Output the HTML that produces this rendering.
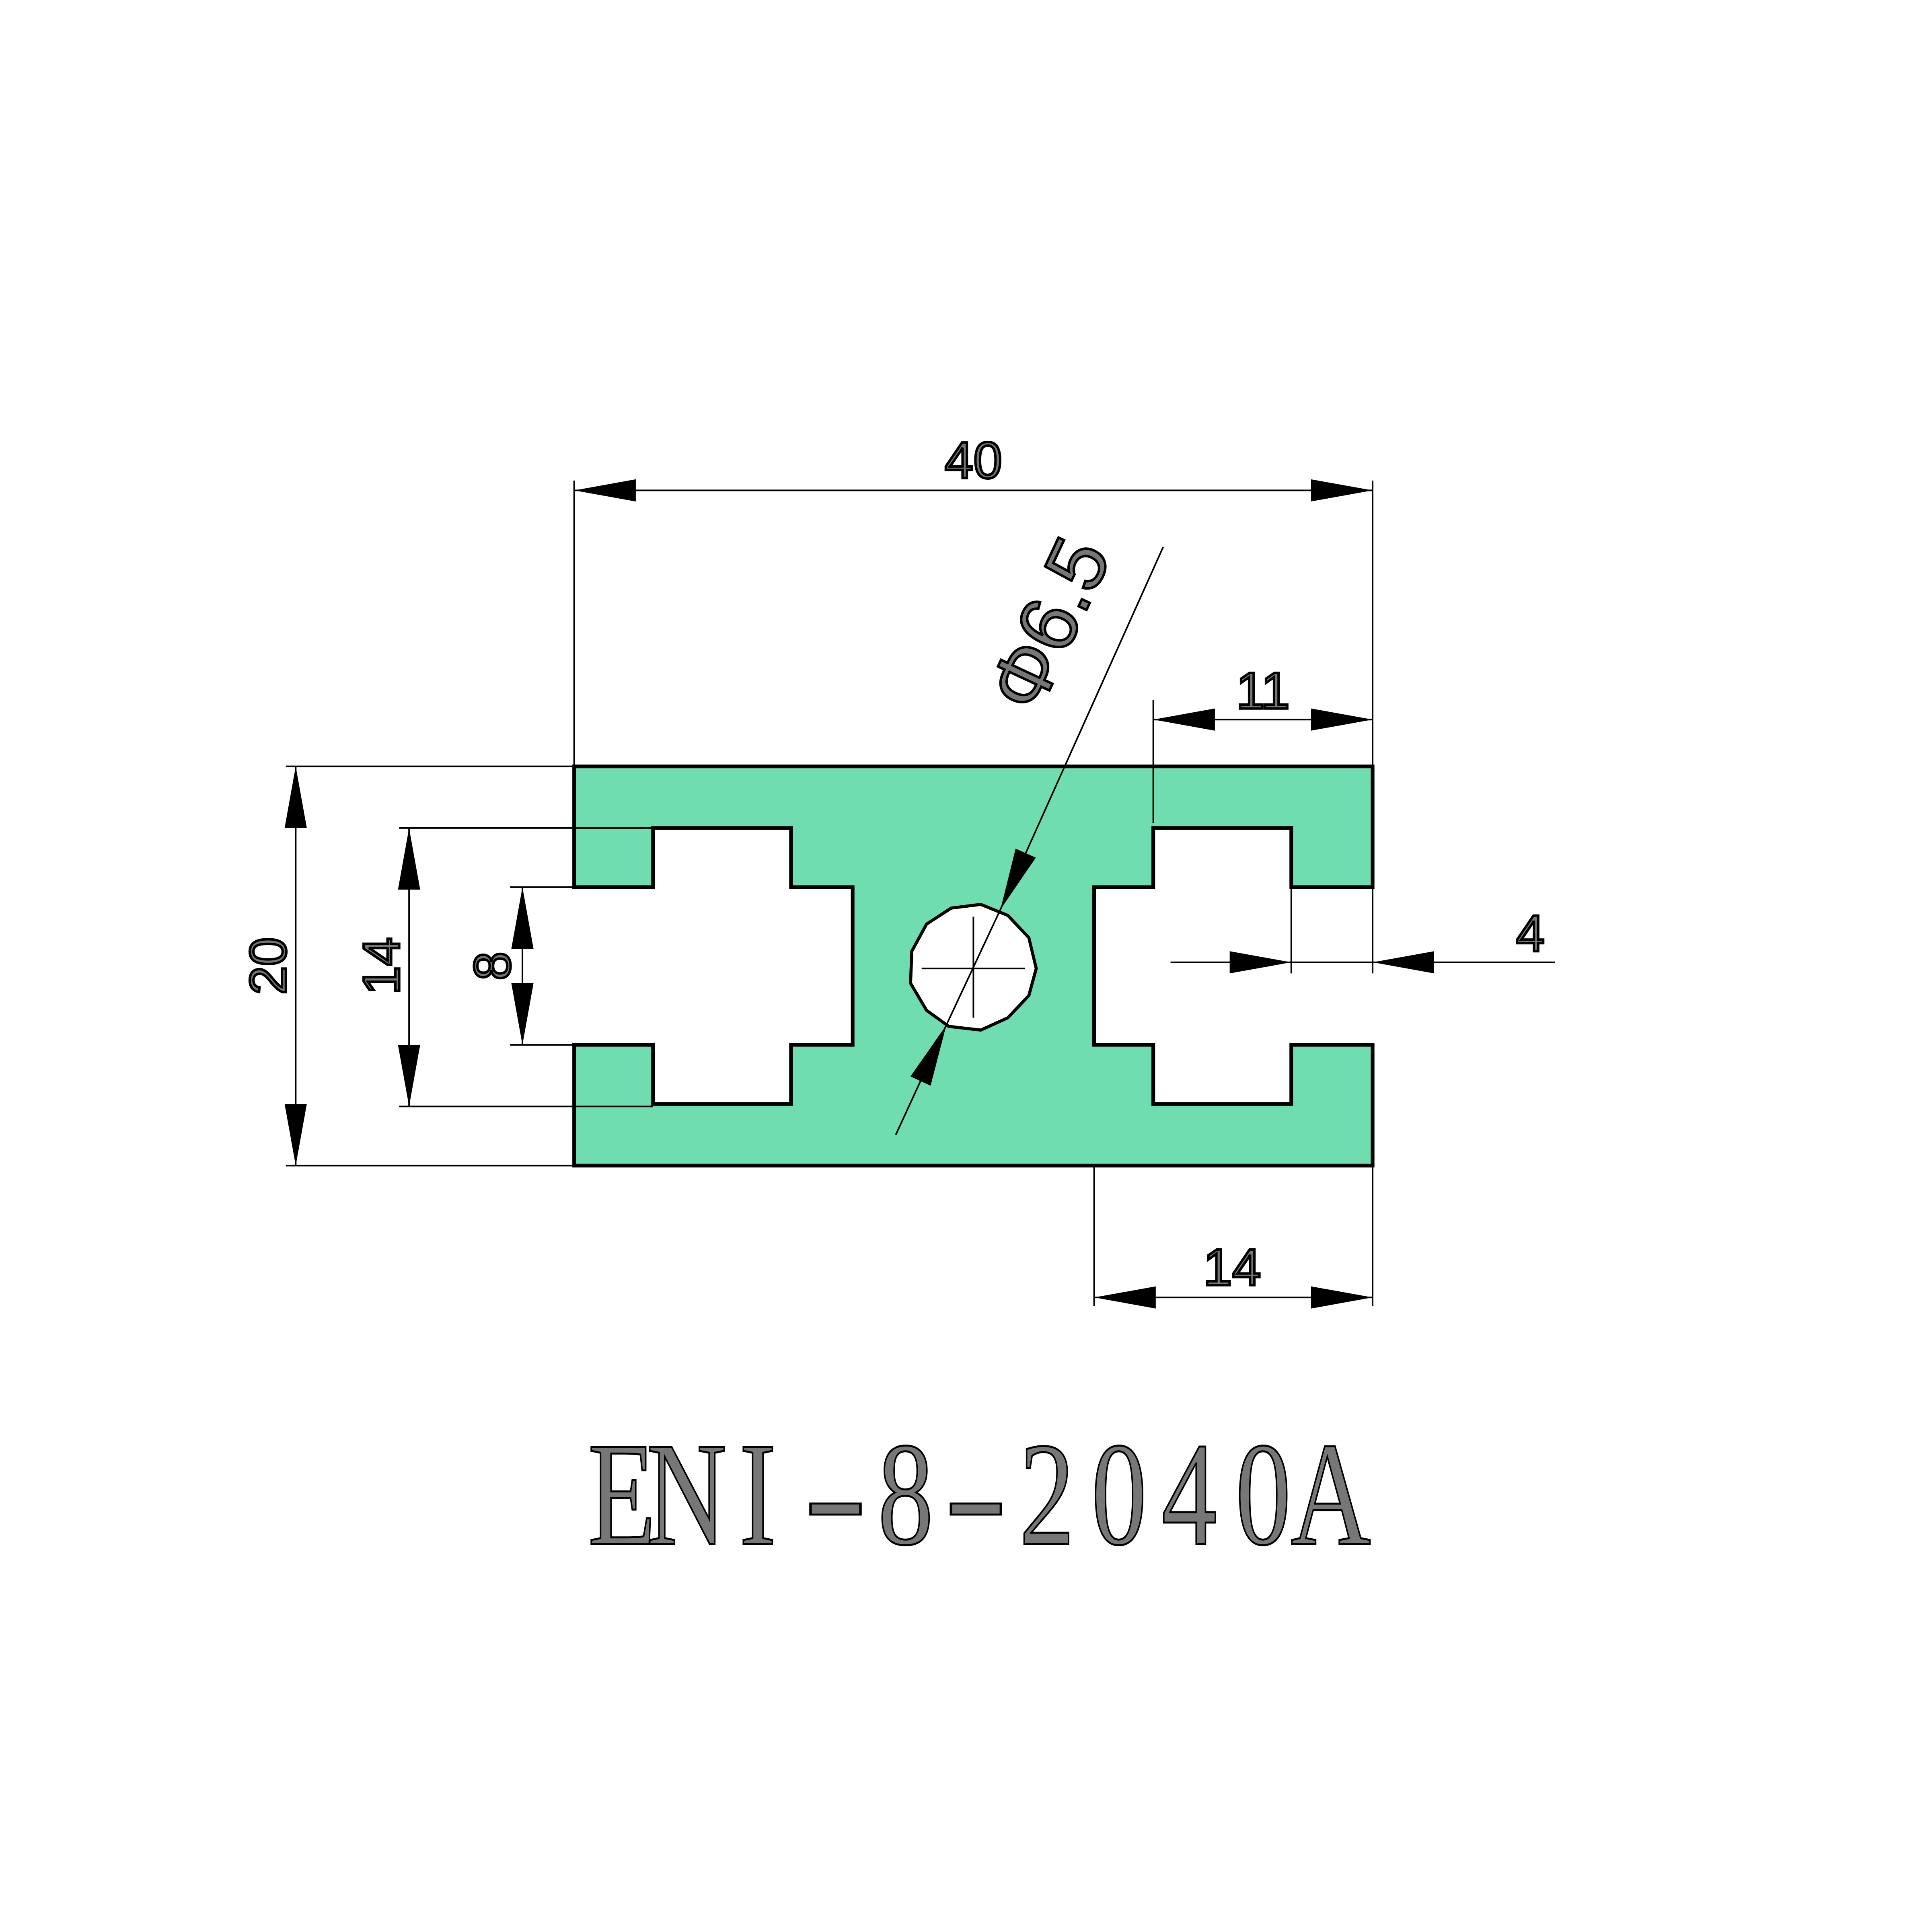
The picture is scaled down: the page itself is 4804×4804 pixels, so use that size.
<!DOCTYPE html>
<html><head><meta charset="utf-8"><style>html,body{margin:0;padding:0;background:#fff}svg{display:block}</style></head>
<body>
<svg xmlns="http://www.w3.org/2000/svg" width="4804" height="4804" viewBox="0 0 1568 1568">
<defs>
<marker id="a" viewBox="0 0 50 20" refX="50" refY="10" markerWidth="50" markerHeight="20" markerUnits="userSpaceOnUse" orient="auto-start-reverse">
<path d="M0,1 L50,10 L0,19 Z" fill="#000"/>
</marker>
</defs>
<rect width="1568" height="1568" fill="#fff"/>
<path d="M466,622 H1114 V720 H1048 V672 H936 V720 H888 V848 H936 V896 H1048 V848 H1114 V946 H466 V848 H530 V896 H642 V848 H692 V720 H642 V672 H530 V720 H466 Z" fill="#70DDB0" stroke="#000" stroke-width="3"/>
<polygon points="772,737 796,734 818,743 835,761 841,786 835,808 818,826 796,836 770,833 752,820 739,798 740,772 752,750" fill="#fff" stroke="#000" stroke-width="2.5"/>
<g stroke="#000" stroke-width="1.3" fill="none">
<line x1="748" y1="786" x2="832" y2="786"/>
<line x1="790" y1="744" x2="790" y2="826"/>
<line x1="466" y1="390" x2="466" y2="622"/>
<line x1="1114" y1="390" x2="1114" y2="622"/>
<line x1="466" y1="398" x2="1114" y2="398" marker-start="url(#a)" marker-end="url(#a)"/>
<line x1="936" y1="568" x2="936" y2="668"/>
<line x1="936" y1="584" x2="1114" y2="584" marker-start="url(#a)" marker-end="url(#a)"/>
<line x1="1048" y1="720" x2="1048" y2="790"/>
<line x1="1114" y1="720" x2="1114" y2="790"/>
<line x1="950" y1="781" x2="1048" y2="781" marker-end="url(#a)"/>
<line x1="1262" y1="781" x2="1114" y2="781" marker-end="url(#a)"/>
<line x1="1048" y1="781" x2="1114" y2="781"/>
<line x1="888" y1="946" x2="888" y2="1060"/>
<line x1="1114" y1="946" x2="1114" y2="1060"/>
<line x1="888" y1="1053" x2="1114" y2="1053" marker-start="url(#a)" marker-end="url(#a)"/>
<line x1="232" y1="622" x2="466" y2="622"/>
<line x1="232" y1="946" x2="466" y2="946"/>
<line x1="240" y1="622" x2="240" y2="946" marker-start="url(#a)" marker-end="url(#a)"/>
<line x1="324" y1="672" x2="642" y2="672"/>
<line x1="324" y1="898" x2="530" y2="898"/>
<line x1="332" y1="672" x2="332" y2="898" marker-start="url(#a)" marker-end="url(#a)"/>
<line x1="414" y1="720" x2="466" y2="720"/>
<line x1="414" y1="848" x2="466" y2="848"/>
<line x1="424" y1="720" x2="424" y2="848" marker-start="url(#a)" marker-end="url(#a)"/>
<line x1="944" y1="444" x2="812" y2="738" marker-end="url(#a)"/>
<line x1="727" y1="921" x2="768" y2="832" marker-end="url(#a)"/>
<line x1="812" y1="738" x2="768" y2="832"/>
</g>
<g font-family="'Liberation Sans', sans-serif" font-size="42" fill="#777" stroke="#000" stroke-width="2" text-anchor="middle">
<text x="790" y="388">40</text>
<text x="1025" y="575">11</text>
<text x="1242" y="772">4</text>
<text x="1000" y="1043">14</text>
<text transform="translate(232,784) rotate(-90)">20</text>
<text transform="translate(324,784) rotate(-90)">14</text>
<text transform="translate(414,784) rotate(-90)">8</text>
<text font-size="66" transform="translate(872,516) rotate(-65)">Φ6.5</text>
</g>
<g font-family="'Liberation Serif', serif" font-size="120" fill="#777" stroke="#000" stroke-width="1.6" text-anchor="middle">
<g transform="scale(0.75 1)">
<text y="1253" x="673 743 820">ENI</text>
<text y="1253" x="980">8</text>
<text y="1253" x="1133 1211 1287 1367 1440">2040A</text>
</g>
<text y="1253" transform="translate(678 0) scale(1.3 1)" x="0">-</text>
<text y="1253" transform="translate(792 0) scale(1.3 1)" x="0">-</text>
</g>
</svg>
</body></html>
